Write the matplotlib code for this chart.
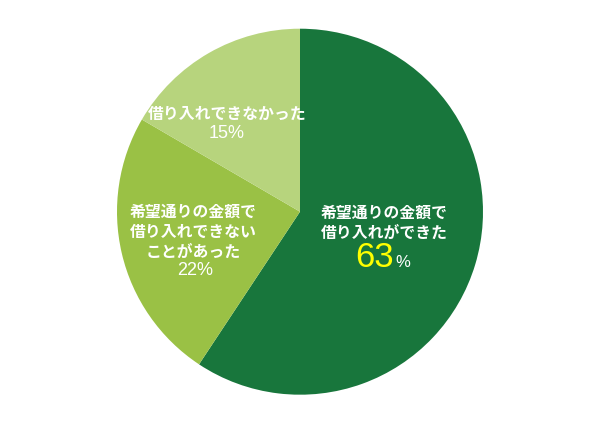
import matplotlib.pyplot as plt

plt.rcParams['font.family'] = ['Noto Sans CJK JP', 'DejaVu Sans']

labels = ['希望通りの金額で\n借り入れができた',
          '希望通りの金額で\n借り入れできない\nことがあった',
          '借り入れできなかった']
percents = [63, 22, 15]
# slice sizes as drawn in the original picture
shares = [59.3, 24.1, 16.6]
colors = ['#18763c', '#9ac145', '#b7d47d']

W, H = 600, 424
cx, cy, R = 300, 211.7, 183


def pos(px, py):
    return (px - cx) / R, (cy - py) / R


fig = plt.figure(figsize=(6, 4.24), dpi=100)
ax = fig.add_axes([0, 0, 1, 1])
ax.pie(shares, colors=colors, startangle=90, counterclock=False,
       radius=1, center=(0, 0), wedgeprops=dict(linewidth=0))
ax.set_xlim(-cx / R, (W - cx) / R)
ax.set_ylim(-(H - cy) / R, cy / R)
ax.set_aspect('equal')
ax.axis('off')

fs = 11.4
txt = dict(color='white', fontsize=fs, fontweight='bold', ha='center', va='center')
num = dict(color='white', fontsize=13, ha='center', va='center',
           family=['Liberation Sans'])

# dark slice
for i, line in enumerate(labels[0].split('\n')):
    ax.text(*pos(384, 213 + 20 * i), line, **txt)
ax.text(*pos(394, 267), str(percents[0]), color='#ffff00', fontsize=25,
        ha='right', va='baseline', family=['Liberation Sans'])
ax.text(*pos(395, 267), '%', color='white', fontsize=12,
        ha='left', va='baseline', family=['Liberation Sans'])

# middle slice
for i, line in enumerate(labels[1].split('\n')):
    ax.text(*pos(193, 212 + 19.7 * i), line, **txt)
ax.text(*pos(195, 271), '%d%%' % percents[1], **num)

# light slice
ax.text(*pos(227, 114), labels[2], **txt)
ax.text(*pos(227, 133.5), '%d%%' % percents[2], **num)

fig.savefig('out.png', dpi=100, facecolor='white')
